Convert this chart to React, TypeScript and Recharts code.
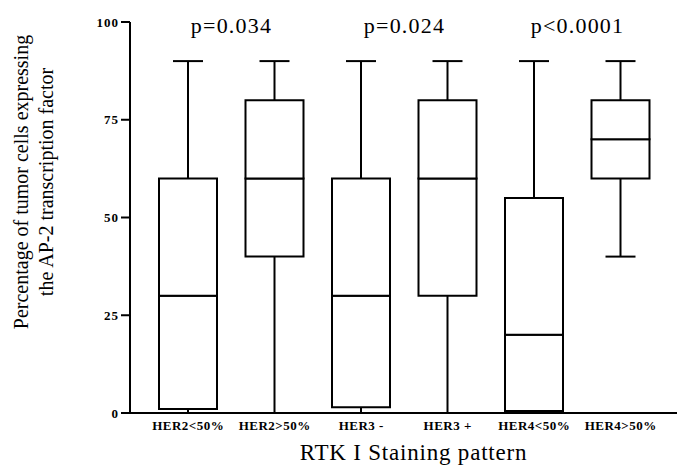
import { ComposedChart, Bar, XAxis, YAxis, ReferenceArea, Label } from 'recharts'

// box plot values (percent of tumor cells)
const groups = ['HER2<50%', 'HER2>50%', 'HER3 -', 'HER3 +', 'HER4<50%', 'HER4>50%']
const minimum = [0, 0, 0, 0, 0, 40]
const lowerQuartile = [1, 40, 1.5, 30, 0.5, 60]
const median = [30, 60, 30, 60, 20, 70]
const upperQuartile = [60, 80, 60, 80, 55, 80]
const maximum = [90, 90, 90, 90, 90, 90]
const yTicks = [0, 25, 50, 75, 100]

const pFrom = ['HER2<50%', 'HER3 -', 'HER4<50%']
const pTo = ['HER2>50%', 'HER3 +', 'HER4>50%']
const pText = ['p=0.034', 'p=0.024', 'p<0.0001']

const serif = "'Liberation Serif', 'Times New Roman', serif"

const data = groups.map((name, i) => ({
  name,
  base: minimum[i],
  lowWhisker: lowerQuartile[i] - minimum[i],
  lowBox: median[i] - lowerQuartile[i],
  highBox: upperQuartile[i] - median[i],
  highWhisker: maximum[i] - upperQuartile[i],
}))

function whisker(capAtTop: boolean) {
  return (props: any) => {
    const { x, y, width, height } = props
    const cx = x + width / 2
    const capY = capAtTop ? y : y + height
    return (
      <g>
        <line x1={cx} x2={cx} y1={y} y2={y + height} stroke="#000" strokeWidth={2} />
        <line x1={cx - 15} x2={cx + 15} y1={capY} y2={capY} stroke="#000" strokeWidth={2} />
      </g>
    )
  }
}

function YTitle() {
  return (
    <text fontFamily={serif} fontSize={20} fill="#000" textAnchor="middle" transform="rotate(-90)">
      <tspan x={-182} y={27.5}>Percentage of tumor cells expressing</tspan>
      <tspan x={-182} y={52.5}>the AP-2 transcription factor</tspan>
    </text>
  )
}

export default function App() {
  return (
    <div style={{ position: 'absolute', left: 0, top: 0, background: '#fff' }}>
      <ComposedChart
        width={677}
        height={472}
        data={data}
        barSize={58}
        margin={{ top: 22, right: 0, bottom: 0, left: 0 }}
      >
        <XAxis
          dataKey="name"
          height={59}
          padding={{ left: 15, right: 13 }}
          tickLine={false}
          axisLine={{ stroke: '#000', strokeWidth: 2 }}
          tick={{ fill: '#000', fontSize: 13, fontWeight: 'bold', fontFamily: serif, letterSpacing: 0.5 }}
          interval={0}
        >
          <Label
            value="RTK I Staining pattern"
            position="insideBottom"
            offset={12}
            dx={10}
            fontSize={23}
            fontFamily={serif}
            fill="#000"
            letterSpacing={0.8}
          />
        </XAxis>
        <YAxis
          width={130}
          domain={[0, 100]}
          ticks={yTicks}
          tickSize={9}
          tickMargin={2}
          axisLine={{ stroke: '#000', strokeWidth: 2 }}
          tickLine={{ stroke: '#000', strokeWidth: 2 }}
          tick={{ fill: '#000', fontSize: 13, fontWeight: 'bold', fontFamily: serif, letterSpacing: 1 }}
        >
          <Label content={() => <YTitle />} />
        </YAxis>
        <Bar dataKey="base" stackId="box" fill="none" isAnimationActive={false} />
        <Bar dataKey="lowWhisker" stackId="box" shape={whisker(false)} isAnimationActive={false} />
        <Bar dataKey="lowBox" stackId="box" fill="#fff" stroke="#000" strokeWidth={2} isAnimationActive={false} />
        <Bar dataKey="highBox" stackId="box" fill="#fff" stroke="#000" strokeWidth={2} isAnimationActive={false} />
        <Bar dataKey="highWhisker" stackId="box" shape={whisker(true)} isAnimationActive={false} />
        {pText.map((t, i) => (
          <ReferenceArea
            key={t}
            x1={pFrom[i]}
            x2={pTo[i]}
            y1={97}
            y2={101.4}
            fill="none"
            stroke="none"
            ifOverflow="visible"
          >
            <Label value={t} position="center" fontSize={22} fontFamily={serif} fill="#000" letterSpacing={1.2} />
          </ReferenceArea>
        ))}
      </ComposedChart>
    </div>
  )
}
